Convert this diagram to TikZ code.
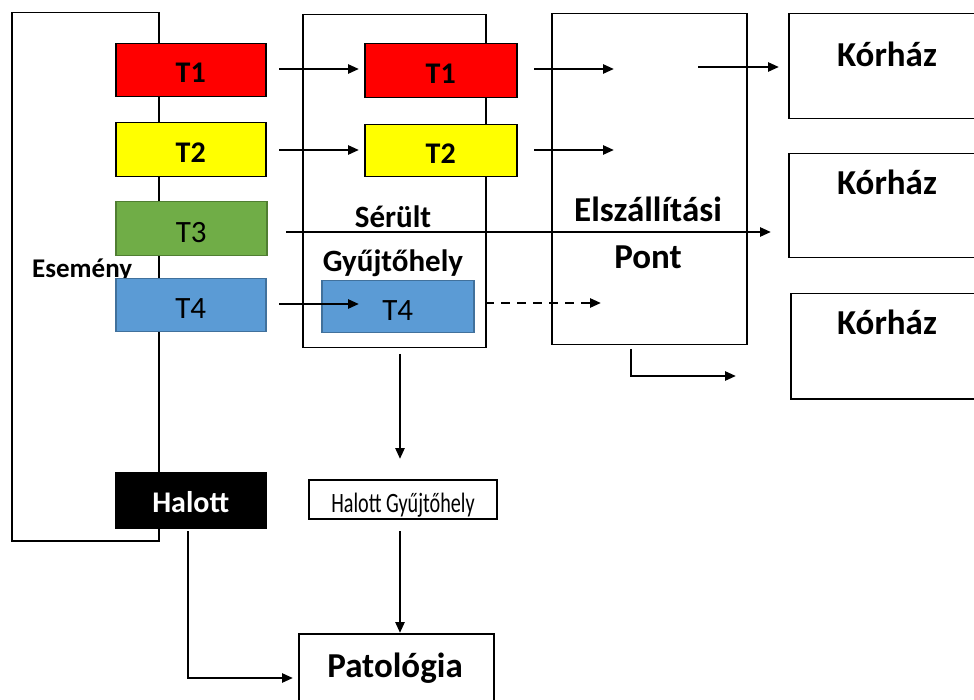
\documentclass[tikz,border=0pt]{standalone}
\usepackage{fontspec}
\setmainfont{Carlito}
\usetikzlibrary{arrows.meta,calc}
\definecolor{tred}{HTML}{FF0000}
\definecolor{tyel}{HTML}{FFFF00}
\definecolor{tgreen}{HTML}{70AD47}
\definecolor{tgreenb}{HTML}{507E32}
\definecolor{tblue}{HTML}{5B9BD5}
\definecolor{tblueb}{HTML}{41719C}
\tikzset{
  x=1pt, y=-1pt,
  frame/.style={draw=black, line width=1.5pt, inner sep=0pt, anchor=north west},
  tbox/.style={frame, minimum width=150pt, minimum height=53pt, text depth=0pt},
  big/.style={font=\fontsize{35}{40}\selectfont\bfseries, inner sep=0pt, anchor=base},
  mid/.style={font=\fontsize{31}{36}\selectfont\bfseries, inner sep=0pt, anchor=base},
  tb/.style={font=\fontsize{30}{34}\selectfont\bfseries, text height=25pt},
  tr/.style={font=\fontsize{31}{34}\selectfont, text height=27pt},
  arr/.style={line width=2.5pt, -{Triangle[length=11pt,width=9pt]}},
}
\begin{document}
\begin{tikzpicture}
\useasboundingbox (0,0) rectangle (974,700);
\clip (0,0) rectangle (974,700);
% Esemeny column
\node[frame, minimum width=147pt, minimum height=528pt] (ev) at (11,12) {};
\node[font=\fontsize{27}{30}\selectfont\bfseries, inner sep=0pt, anchor=base west] (evt) at (32,278) {Esemény};
\node[tbox, fill=tred, tb] (e1) at (115,43) {T1};
\node[tbox, fill=tyel, tb, minimum height=54pt] (e2) at (115,122) {T2};
\node[tbox, fill=tgreen, draw=tgreenb, tr, minimum width=151pt, minimum height=54pt] (e3) at (115,201) {T3};
\node[tbox, fill=tblue, draw=tblueb, tr] (e4) at (115,278) {T4};
\node[tbox, fill=black, text=white, tb, minimum height=55pt] (hal) at (115,472) {Halott};
% Serult gyujtohely
\node[frame, minimum width=183pt, minimum height=333pt] (mid) at (302,14) {};
\node[mid] (sert) at (393,228) {Sérült};
\node[mid] (gyut) at (393,272) {Gyűjtőhely};
\node[tbox, fill=tred, tb, minimum width=152pt, minimum height=54pt] (m1) at (364,43) {T1};
\node[tbox, fill=tyel, tb, minimum width=152pt, minimum height=52pt] (m2) at (364,124) {T2};
\node[tbox, fill=tblue, draw=tblueb, tr, minimum width=152pt, minimum height=52pt] (m4) at (321,280) {T4};
% Elszallitasi pont
\node[frame, minimum width=195pt, minimum height=331pt] (ep) at (551,13) {};
\node[big] (elt) at (648,222) {Elszállítási};
\node[big] (pont) at (648,269) {Pont};
% Korhaz
\node[frame, minimum width=250pt, minimum height=105pt] (k1) at (788,13) {};
\node[big] (k1t) at (887,67) {Kórház};
\node[frame, minimum width=250pt, minimum height=104pt] (k2) at (788,153) {};
\node[big] (k2t) at (887,195) {Kórház};
\node[frame, minimum width=250pt, minimum height=105pt] (k3) at (790,293) {};
\node[big] (k3t) at (887,335) {Kórház};
% Halott gyujtohely and patologia
\node[frame, minimum width=188pt, minimum height=39pt] (hg) at (308,479) {};
\node[inner sep=0pt, anchor=base, font=\fontsize{28}{30}\selectfont] (hgt) at (403,512) {\scalebox{0.72}[1]{Halott Gyűjtőhely}};
\node[frame, minimum width=195pt, minimum height=120pt] (pat) at (298,633) {};
\node[big] (patt) at (395,677) {Patológia};
% coordinates for free ends
\coordinate (a1s) at (279,69);  \coordinate (a1e) at (359,69);
\coordinate (a2s) at (279,150); \coordinate (a2e) at (359,150);
\coordinate (a3s) at (286,232); \coordinate (a3e) at (771,232);
\coordinate (a4s) at (279,304); \coordinate (a4e) at (359,304);
\coordinate (b1s) at (534,69);  \coordinate (b1e) at (614,69);
\coordinate (b2s) at (534,150); \coordinate (b2e) at (614,150);
\coordinate (b4s) at (485,303); \coordinate (b4e) at (601,303);
\coordinate (c1s) at (698,67);  \coordinate (c1e) at (779,67);
\coordinate (c4s) at (631,349); \coordinate (c4e) at (736,376);
\coordinate (d1s) at (400,354); \coordinate (d1e) at (400,459);
\coordinate (d2s) at (400,531);
\coordinate (h1s) at (188,531); \coordinate (h1e) at (293,678);
% connectors
\draw[arr] (a1s) -- (a1e);
\draw[arr] (a2s) -- (a2e);
\draw[arr] (a3s) -- (a3e);
\draw[arr] (a4s) -- (a4e);
\draw[arr] (b1s) -- (b1e);
\draw[arr] (b2s) -- (b2e);
\draw[arr, dashed, dash pattern=on 9pt off 7pt] (b4s) -- (b4e);
\draw[arr] (c1s) -- (c1e);
\draw[arr] (c4s) |- (c4e);
\draw[arr] (d1s) -- (d1e);
\draw[arr] (d2s) -- (pat.north -| d2s);
\draw[arr] (h1s) |- (h1e);
\end{tikzpicture}
\end{document}
